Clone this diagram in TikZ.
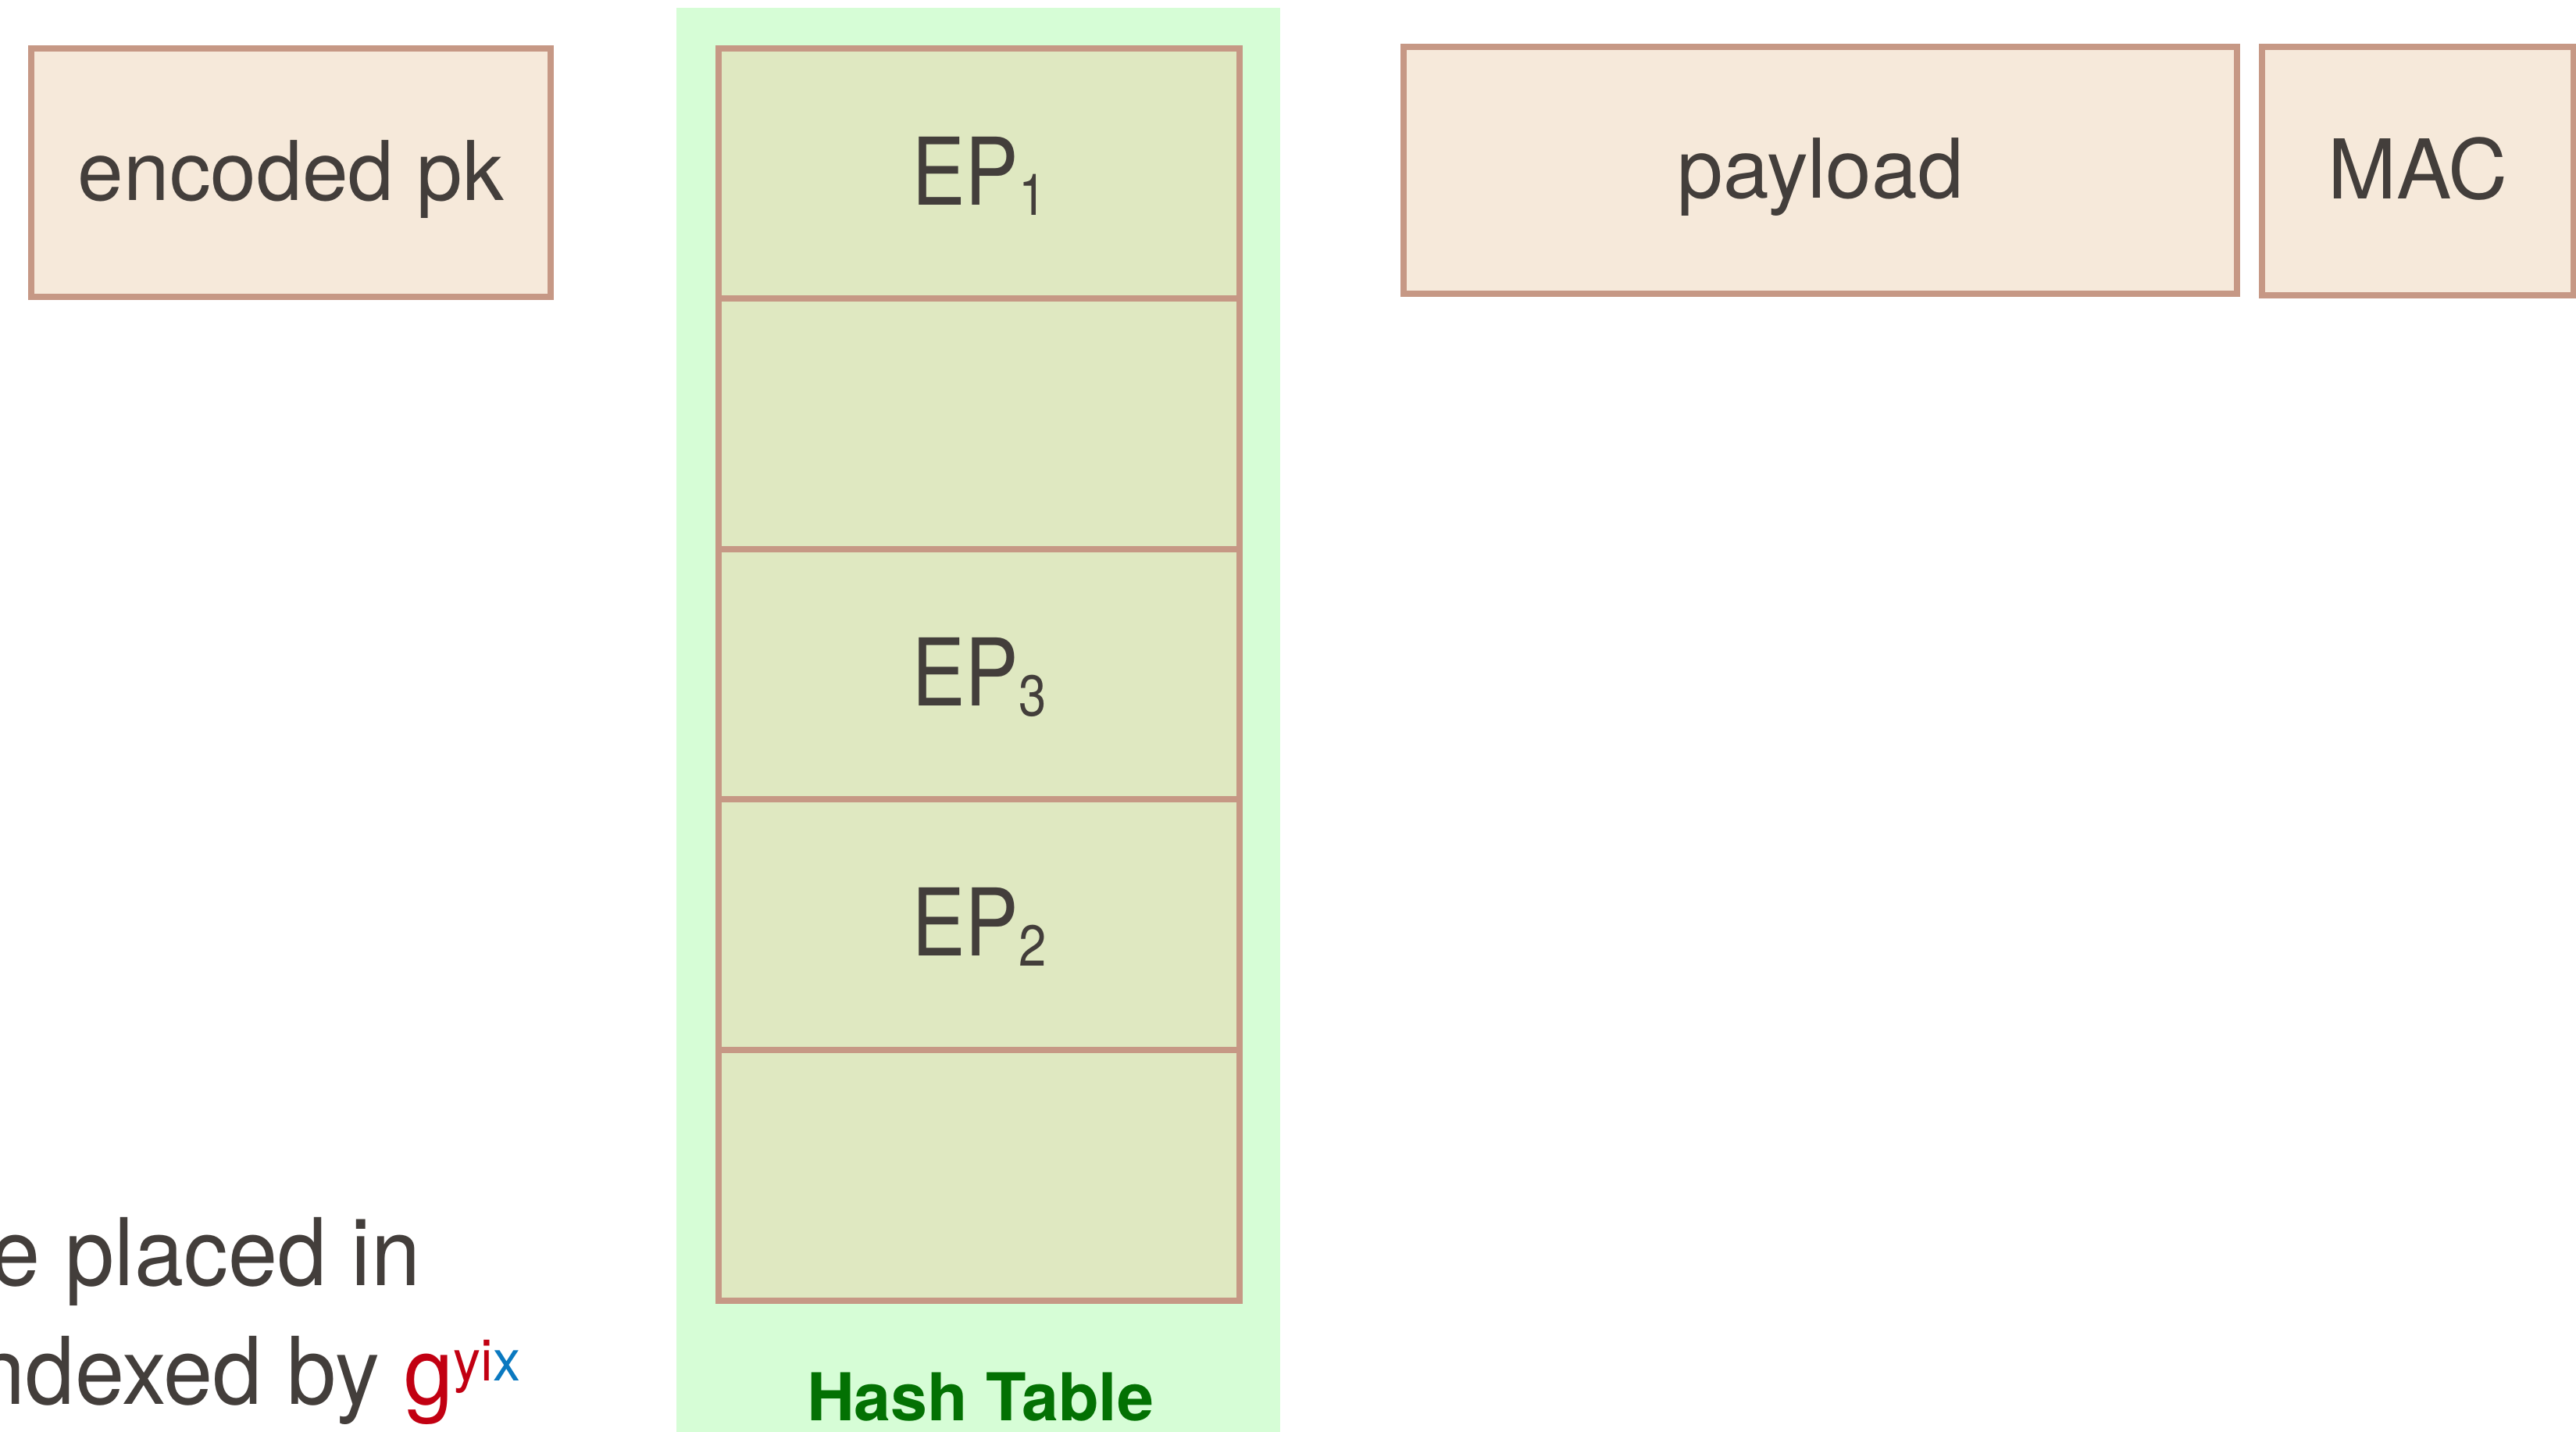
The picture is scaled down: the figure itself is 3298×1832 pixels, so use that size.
\documentclass[tikz,border=0pt]{standalone}
\usepackage{fontspec}
\setmainfont{TeX Gyre Heros}
\newfontfamily\epfont[FakeStretch=0.86]{TeX Gyre Heros}
\newfontfamily\notefont[FakeStretch=0.95]{TeX Gyre Heros}
\definecolor{bordc}{RGB}{198,152,133}
\definecolor{peach}{RGB}{246,233,218}
\definecolor{cellc}{RGB}{223,232,193}
\definecolor{htbgc}{RGB}{214,253,214}
\definecolor{txt}{RGB}{67,62,59}
\definecolor{htgreen}{RGB}{3,113,3}
\definecolor{gred}{RGB}{194,0,18}
\definecolor{xblue}{RGB}{10,121,192}
\newcommand{\eplabel}[1]{{\epfont\fontsize{34}{34}\selectfont EP}\raisebox{-0.13cm}{\epfont\fontsize{21}{21}\selectfont #1}}
\begin{document}
\begin{tikzpicture}[x=0.01cm,y=-0.01cm,
  box/.style={draw=bordc, line width=0.08cm, fill=peach, inner sep=0pt,
    text height=0.70cm, text depth=0pt, text=txt, font=\fontsize{30}{30}\selectfont},
  cell/.style={box, fill=cellc, minimum width=6.67cm, minimum height=3.205cm,
    text height=0.80cm},
  note/.style={anchor=base east, inner sep=0pt, text=txt, font=\notefont\fontsize{34}{34}\selectfont}]
\useasboundingbox (0,0) rectangle (3298,1832);
% hash table background
\node[fill=htbgc, inner sep=0pt, minimum width=7.73cm, minimum height=18.30cm] (htbg) at (1252.5,926) {};
% top row boxes
\node[box, minimum width=6.65cm, minimum height=3.18cm] (pk) at (372.5,221) {encoded pk};
\node[box, minimum width=10.67cm, minimum height=3.16cm] (payload) at (2330.5,218) {payload};
\node[box, minimum width=3.99cm, minimum height=3.18cm] (mac) at (3095.5,219) {MAC};
% hash table cells
\node[cell] (c1) at (1253.5,222.25) {\eplabel{1}};
\node[cell] (c2) at (1253.5,542.75) {};
\node[cell] (c3) at (1253.5,863.25) {\eplabel{3}};
\node[cell] (c4) at (1253.5,1183.75) {\eplabel{2}};
\node[cell] (c5) at (1253.5,1504.25) {};
\node[anchor=base, inner sep=0pt, text=htgreen, font=\fontsize{24}{24}\selectfont\bfseries] (htlabel) at (1255,1818) {Hash Table};
% note text (cut at the left edge)
\node[note] (note1) at (539,1645) {e placed in};
\node[note] (note2) at (667,1797) {ndexed by \textcolor{gred}{g}\raisebox{0.30cm}{\notefont\fontsize{21}{21}\selectfont\textcolor{gred}{yi}\textcolor{xblue}{x}}};
\end{tikzpicture}
\end{document}
